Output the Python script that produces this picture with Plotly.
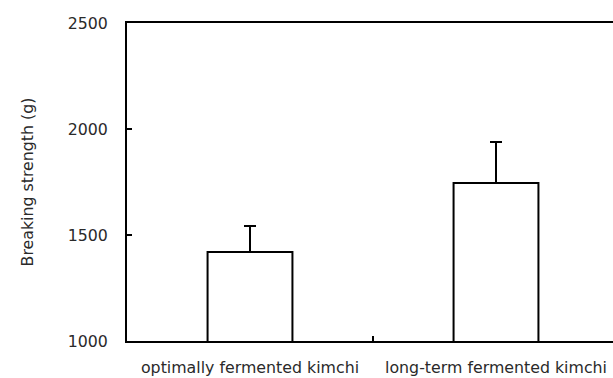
import plotly.graph_objects as go

categories = ["optimally fermented kimchi", "long-term fermented kimchi"]
strength = [1420, 1745]
err_upper = [122, 194]
y_ticks = [1000, 1500, 2000, 2500]

x_pos = list(range(len(categories)))

fig = go.Figure()
fig.add_trace(go.Bar(
    x=x_pos, y=strength, width=0.345,
    marker=dict(color="white", line=dict(color="black", width=2)),
    error_y=dict(type="data", array=err_upper, arrayminus=[0] * len(err_upper),
                 symmetric=False, color="black", thickness=2, width=6),
))

font = dict(family="DejaVu Sans", size=15.8, color="#2a2a2a")
fig.update_layout(
    width=613, height=378,
    margin=dict(l=127, r=0, t=23, b=37),
    plot_bgcolor="white", paper_bgcolor="white",
    showlegend=False, font=font,
    xaxis=dict(
        range=[-0.5, 1.4756], tickmode="array", tickvals=x_pos, ticktext=categories,
        ticks="", showgrid=False, zeroline=False,
        showline=True, linecolor="black", linewidth=2, mirror=True,
        minor=dict(tickmode="array", tickvals=[0.5], ticks="inside", ticklen=5,
                   tickwidth=2, tickcolor="black", showgrid=False),
        ticklabelstandoff=11, tickfont=font,
    ),
    yaxis=dict(
        range=[1000, 2500], tickmode="array", tickvals=y_ticks,
        ticks="inside", ticklen=5, tickwidth=2, tickcolor="black",
        showgrid=False, zeroline=False,
        showline=True, linecolor="black", linewidth=2,
        ticklabelstandoff=14, tickfont=font,
        title=dict(text="Breaking strength (g)", font=font, standoff=30),
    ),
)

fig.write_html("out.html")
